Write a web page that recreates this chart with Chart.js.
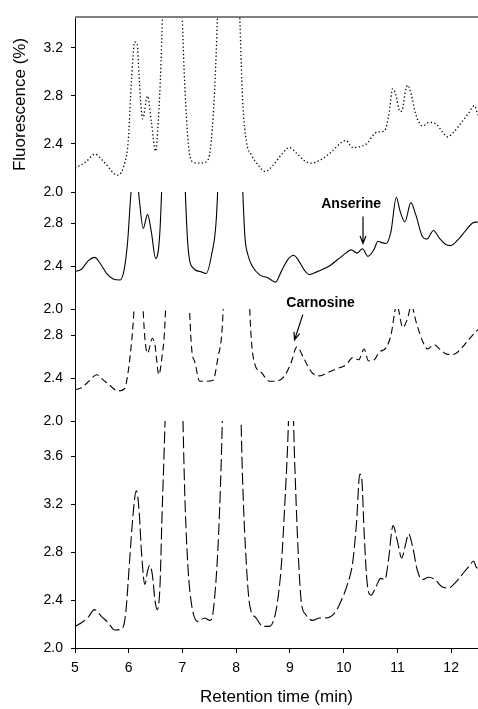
<!DOCTYPE html>
<html>
<head>
<meta charset="utf-8">
<script src="https://cdn.jsdelivr.net/npm/chart.js@4.4.1/dist/chart.umd.min.js"></script>
<style>
    body { margin: 0; background: #fff; }
    #wrap { width: 478px; height: 709px; }
</style>
</head>
<body>
<div id="wrap"><canvas id="myChart"></canvas></div>
<script>
// retention time ticks (min)
let timeTicks = [5, 6, 7, 8, 9, 10, 11, 12];

// fluorescence tick labels per trace (%)
let topTicks = [2.0, 2.4, 2.8, 3.2];
let secondTicks = [2.0, 2.4, 2.8];
let thirdTicks = [2.0, 2.4, 2.8];
let bottomTicks = [2.0, 2.4, 2.8, 3.2, 3.6];

// trace 1 (dotted)
let time1 = [5.0, 5.2, 5.37, 5.56, 5.79, 5.93, 5.99, 6.05, 6.11, 6.16, 6.19, 6.26, 6.35, 6.42, 6.50, 6.55, 6.60, 6.80, 7.04, 7.13, 7.20, 7.29, 7.44, 7.52, 7.59, 7.88, 8.12, 8.19, 8.28, 8.40, 8.54, 8.68, 8.84, 8.99, 9.11, 9.27, 9.39, 9.58, 9.76, 9.95, 10.04, 10.17, 10.32, 10.45, 10.54, 10.63, 10.76, 10.85, 10.91, 10.97, 11.05, 11.10, 11.14, 11.19, 11.26, 11.34, 11.47, 11.59, 11.71, 11.84, 11.93, 12.05, 12.21, 12.33, 12.43, 12.5];
let signal1 = [2.20, 2.25, 2.315, 2.24, 2.14, 2.25, 2.42, 2.92, 3.25, 3.23, 2.98, 2.61, 2.80, 2.59, 2.34, 2.59, 3.07, 6.0, 2.92, 2.32, 2.25, 2.24, 2.25, 2.36, 2.77, 6.0, 2.77, 2.42, 2.31, 2.23, 2.17, 2.22, 2.31, 2.37, 2.33, 2.26, 2.24, 2.27, 2.33, 2.41, 2.43, 2.37, 2.38, 2.41, 2.47, 2.50, 2.51, 2.67, 2.86, 2.81, 2.67, 2.70, 2.82, 2.89, 2.81, 2.65, 2.55, 2.58, 2.57, 2.50, 2.46, 2.50, 2.59, 2.66, 2.72, 2.64];

// trace 2 (solid)
let time2 = [5.0, 5.12, 5.25, 5.37, 5.46, 5.59, 5.71, 5.84, 5.92, 5.98, 6.03, 6.11, 6.20, 6.27, 6.35, 6.42, 6.50, 6.58, 6.82, 7.10, 7.20, 7.32, 7.44, 7.54, 7.63, 7.89, 8.16, 8.22, 8.31, 8.43, 8.59, 8.73, 8.84, 8.96, 9.07, 9.15, 9.27, 9.36, 9.52, 9.70, 9.89, 10.04, 10.14, 10.25, 10.35, 10.45, 10.56, 10.64, 10.69, 10.79, 10.88, 10.98, 11.05, 11.14, 11.25, 11.34, 11.47, 11.55, 11.67, 11.78, 11.90, 11.99, 12.12, 12.27, 12.40, 12.5];
let signal2 = [2.347, 2.37, 2.45, 2.48, 2.43, 2.33, 2.28, 2.27, 2.38, 2.63, 3.0, 3.45, 3.0, 2.75, 2.88, 2.72, 2.47, 2.72, 6.0, 2.60, 2.38, 2.35, 2.33, 2.50, 2.84, 6.0, 2.69, 2.50, 2.39, 2.32, 2.29, 2.25, 2.35, 2.46, 2.50, 2.46, 2.36, 2.32, 2.35, 2.39, 2.46, 2.52, 2.55, 2.52, 2.56, 2.49, 2.55, 2.63, 2.62, 2.61, 2.72, 3.04, 2.91, 2.81, 2.99, 2.88, 2.67, 2.65, 2.73, 2.66, 2.60, 2.59, 2.64, 2.73, 2.80, 2.81];

// trace 3 (short dashes)
let time3 = [5.0, 5.12, 5.28, 5.40, 5.53, 5.65, 5.80, 5.92, 5.99, 6.06, 6.195, 6.30, 6.35, 6.44, 6.49, 6.56, 6.62, 6.67, 6.90, 7.17, 7.23, 7.32, 7.44, 7.57, 7.66, 7.74, 8.0, 8.28, 8.34, 8.47, 8.62, 8.74, 8.90, 9.02, 9.13, 9.27, 9.41, 9.55, 9.70, 9.89, 10.04, 10.17, 10.28, 10.38, 10.46, 10.57, 10.66, 10.79, 10.88, 10.99, 11.10, 11.18, 11.26, 11.36, 11.47, 11.56, 11.68, 11.81, 11.93, 12.05, 12.18, 12.33, 12.46, 12.5];
let signal3 = [2.29, 2.31, 2.38, 2.43, 2.38, 2.33, 2.28, 2.30, 2.46, 2.77, 3.6, 2.77, 2.63, 2.77, 2.70, 2.43, 2.60, 2.87, 6.0, 2.68, 2.55, 2.37, 2.37, 2.38, 2.59, 2.87, 6.0, 2.77, 2.54, 2.45, 2.37, 2.37, 2.42, 2.54, 2.69, 2.57, 2.45, 2.42, 2.45, 2.49, 2.52, 2.59, 2.57, 2.67, 2.56, 2.57, 2.64, 2.68, 2.80, 3.08, 2.87, 2.94, 3.07, 2.90, 2.74, 2.67, 2.71, 2.66, 2.62, 2.62, 2.67, 2.76, 2.83, 2.85];

// trace 4 (long dashes)
let time4 = [5.0, 5.12, 5.25, 5.36, 5.50, 5.62, 5.74, 5.87, 5.94, 6.02, 6.08, 6.14, 6.19, 6.24, 6.30, 6.35, 6.39, 6.44, 6.49, 6.53, 6.58, 6.62, 6.67, 6.85, 7.04, 7.10, 7.17, 7.29, 7.41, 7.51, 7.57, 7.66, 7.72, 7.92, 8.12, 8.19, 8.25, 8.37, 8.50, 8.62, 8.71, 8.77, 8.84, 8.90, 8.96, 9.02, 9.09, 9.15, 9.21, 9.30, 9.42, 9.55, 9.67, 9.83, 9.95, 10.07, 10.17, 10.24, 10.30, 10.34, 10.38, 10.44, 10.51, 10.60, 10.69, 10.77, 10.83, 10.92, 11.00, 11.08, 11.15, 11.21, 11.29, 11.37, 11.46, 11.58, 11.70, 11.83, 11.95, 12.07, 12.20, 12.33, 12.42, 12.46, 12.5];
let signal4 = [2.18, 2.21, 2.26, 2.32, 2.26, 2.21, 2.15, 2.16, 2.275, 2.75, 3.11, 3.31, 3.16, 2.78, 2.53, 2.64, 2.69, 2.61, 2.39, 2.32, 2.50, 3.11, 3.80, 7.0, 3.33, 2.69, 2.36, 2.22, 2.25, 2.23, 2.30, 2.83, 3.53, 7.0, 3.39, 2.69, 2.36, 2.25, 2.18, 2.18, 2.25, 2.39, 2.69, 3.16, 3.72, 4.5, 3.53, 2.83, 2.39, 2.275, 2.23, 2.25, 2.25, 2.29, 2.39, 2.53, 2.72, 3.05, 3.45, 3.39, 2.97, 2.53, 2.44, 2.51, 2.58, 2.57, 2.72, 3.02, 2.89, 2.75, 2.86, 2.95, 2.83, 2.65, 2.57, 2.59, 2.57, 2.51, 2.50, 2.54, 2.61, 2.68, 2.725, 2.68, 2.66];

// peak labels, placed in data units of their own trace
let peakNotes = [
    { text: 'Anserine', axis: 'y2', at: [10.14, 2.977], from: [10.36, 2.86], to: [10.36, 2.61] },
    { text: 'Carnosine', axis: 'y3', at: [9.57, 3.10], from: [9.24, 2.99], to: [9.085, 2.755] }
];

const FONT = 'Arial, "Liberation Sans", sans-serif';
Chart.defaults.font.family = FONT;
Chart.defaults.color = '#000';

function toPoints(xs, ys) {
    return xs.map((x, i) => ({ x: x, y: ys[i] }));
}

function yAxis(ticks, max, weight, title) {
    return {
        type: 'linear',
        position: 'left',
        stack: 'traces',
        stackWeight: weight,
        min: 2.0,
        max: max,
        afterBuildTicks: s => { s.ticks = ticks.map(v => ({ value: v })); },
        afterFit: s => { s.width = 75; },
        grid: { drawOnChartArea: false, tickLength: 4, color: '#000' },
        border: { color: '#000', width: 1 },
        ticks: { autoSkip: false, padding: 8, font: { size: 14 }, callback: v => v.toFixed(1) },
        title: title ? { display: true, text: title, font: { size: 17 }, padding: { top: 10 } } : { display: false }
    };
}

// keep each trace inside its own band
const bandClip = {
    id: 'bandClip',
    beforeDatasetDraw(chart, args) {
        const ds = chart.data.datasets[args.index];
        const ys = chart.scales[args.meta.yAxisID];
        const a = chart.chartArea;
        const ctx = chart.ctx;
        const rise = ds.rise || 0;
        ctx.save();
        ctx.beginPath();
        ctx.rect(a.left, ys.top - rise, a.right - a.left, ys.bottom - ys.top + rise);
        ctx.clip();
    },
    afterDatasetDraw(chart) {
        chart.ctx.restore();
    }
};

const extras = {
    id: 'extras',
    afterDraw(chart) {
        const ctx = chart.ctx;
        const a = chart.chartArea;
        const xs = chart.scales.x;

        // grey frame line on top
        ctx.save();
        ctx.strokeStyle = '#808080';
        ctx.lineWidth = 2;
        ctx.beginPath();
        ctx.moveTo(a.left, a.top);
        ctx.lineTo(a.right, a.top);
        ctx.stroke();

        ctx.fillStyle = '#000';
        ctx.strokeStyle = '#000';
        ctx.lineWidth = 1.2;
        ctx.font = 'bold 14px ' + FONT;
        ctx.textAlign = 'center';
        ctx.textBaseline = 'middle';
        for (let n of peakNotes) {
            let ys = chart.scales[n.axis];
            ctx.fillText(n.text, xs.getPixelForValue(n.at[0]), ys.getPixelForValue(n.at[1]));
            let x0 = xs.getPixelForValue(n.from[0]), y0 = ys.getPixelForValue(n.from[1]);
            let x1 = xs.getPixelForValue(n.to[0]), y1 = ys.getPixelForValue(n.to[1]);
            let ang = Math.atan2(y1 - y0, x1 - x0);
            ctx.beginPath();
            ctx.moveTo(x0, y0);
            ctx.lineTo(x1, y1);
            ctx.moveTo(x1 - 8 * Math.cos(ang - 0.38), y1 - 8 * Math.sin(ang - 0.38));
            ctx.lineTo(x1, y1);
            ctx.lineTo(x1 - 8 * Math.cos(ang + 0.38), y1 - 8 * Math.sin(ang + 0.38));
            ctx.stroke();
        }
        ctx.restore();
    }
};

const line = {
    borderColor: '#000',
    pointRadius: 0,
    borderWidth: 1.1,
    fill: false,
    cubicInterpolationMode: 'monotone'
};

new Chart('myChart', {
    type: 'line',
    data: {
        datasets: [
            Object.assign({}, line, { data: toPoints(time1, signal1), yAxisID: 'y1', borderDash: [1.3, 2.4], borderWidth: 1.3 }),
            Object.assign({}, line, { data: toPoints(time2, signal2), yAxisID: 'y2' }),
            Object.assign({}, line, { data: toPoints(time3, signal3), yAxisID: 'y3', borderDash: [7, 4], rise: 6 }),
            Object.assign({}, line, { data: toPoints(time4, signal4), yAxisID: 'y4', borderDash: [12, 4], rise: 5 })
        ]
    },
    options: {
        responsive: true,
        maintainAspectRatio: false,
        animation: false,
        layout: { padding: { top: 17, right: 0, bottom: 0, left: 0 } },
        plugins: {
            legend: { display: false },
            tooltip: { enabled: false }
        },
        scales: {
            x: {
                type: 'linear',
                position: 'bottom',
                min: 5,
                max: 12.5,
                afterBuildTicks: s => { s.ticks = timeTicks.map(v => ({ value: v })); },
                afterFit: s => { s.height = 61; },
                grid: { drawOnChartArea: false, tickLength: 5, color: '#000' },
                border: { color: '#000', width: 1 },
                ticks: { autoSkip: false, maxRotation: 0, padding: 7, font: { size: 14 }, callback: v => String(v) },
                title: { display: true, text: 'Retention time (min)', font: { size: 17 }, padding: { top: 0, bottom: 1 } }
            },
            // left-side stack is laid out bottom first
            y4: yAxis(bottomTicks, 3.8917, 227),
            y3: yAxis(thirdTicks, 3.0419, 112),
            y2: yAxis(secondTicks, 3.0884, 117),
            y1: yAxis(topTicks, 3.4583, 175, 'Fluorescence (%)')
        }
    },
    plugins: [bandClip, extras]
});
</script>
</body>
</html>
